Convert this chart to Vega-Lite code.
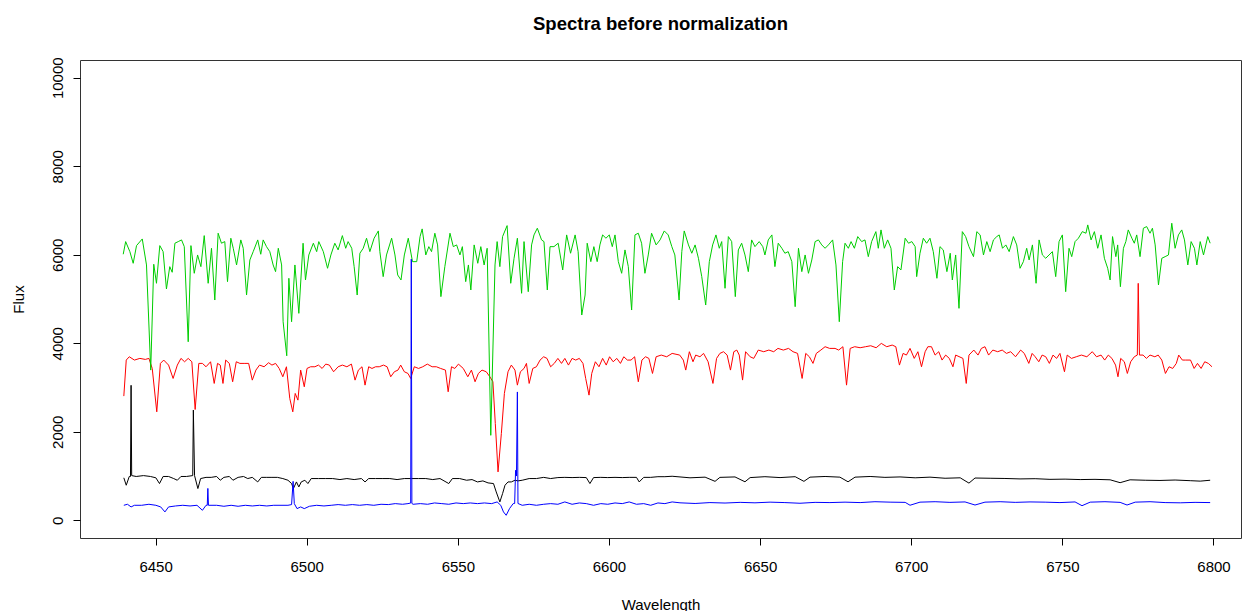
{
  "$schema": "https://vega.github.io/schema/vega-lite/v6.json",
  "width": 1161,
  "height": 478,
  "autosize": {"type": "none"},
  "padding": {"left": 80, "top": 60, "right": 3, "bottom": 73},
  "background": "white",
  "title": {"text": "Spectra before normalization", "font": "Liberation Sans", "fontSize": 18.5, "fontWeight": "bold", "color": "#000", "anchor": "middle", "offset": 23},
  "config": {
    "view": {"stroke": "#333", "strokeWidth": 1},
    "axis": {"labelFont": "Liberation Sans", "titleFont": "Liberation Sans", "labelFontSize": 15, "titleFontSize": 15, "titleFontWeight": "normal", "labelColor": "#000", "titleColor": "#000", "tickColor": "#000", "tickSize": 7, "grid": false, "domain": false}
  },
  "datasets": {
    "black": [
      {"wavelength":6439.5,"flux":960},{"wavelength":6440.3,"flux":792},{"wavelength":6441.3,"flux":990},{"wavelength":6441.7,"flux":990},{"wavelength":6441.9,"flux":3050},{"wavelength":6442.1,"flux":1010},{"wavelength":6443.6,"flux":990},{"wavelength":6446.0,"flux":1010},{"wavelength":6448.3,"flux":990},{"wavelength":6450.1,"flux":960},{"wavelength":6451.3,"flux":830},{"wavelength":6452.5,"flux":990},{"wavelength":6454.3,"flux":990},{"wavelength":6456.0,"flux":943},{"wavelength":6457.2,"flux":905},{"wavelength":6458.4,"flux":990},{"wavelength":6460.2,"flux":990},{"wavelength":6462.3,"flux":1010},{"wavelength":6462.5,"flux":2490},{"wavelength":6462.9,"flux":1010},{"wavelength":6464.0,"flux":717},{"wavelength":6464.9,"flux":943},{"wavelength":6466.7,"flux":970},{"wavelength":6468.4,"flux":970},{"wavelength":6470.2,"flux":990},{"wavelength":6471.4,"flux":905},{"wavelength":6472.6,"flux":970},{"wavelength":6474.4,"flux":990},{"wavelength":6475.6,"flux":905},{"wavelength":6477.3,"flux":970},{"wavelength":6479.1,"flux":990},{"wavelength":6480.5,"flux":943},{"wavelength":6482.0,"flux":970},{"wavelength":6483.8,"flux":867},{"wavelength":6485.0,"flux":970},{"wavelength":6486.8,"flux":970},{"wavelength":6488.5,"flux":970},{"wavelength":6490.3,"flux":970},{"wavelength":6492.1,"flux":943},{"wavelength":6493.8,"flux":905},{"wavelength":6495.0,"flux":830},{"wavelength":6495.6,"flux":717},{"wavelength":6496.6,"flux":867},{"wavelength":6497.4,"flux":754},{"wavelength":6498.2,"flux":867},{"wavelength":6499.4,"flux":905},{"wavelength":6500.4,"flux":830},{"wavelength":6501.5,"flux":943},{"wavelength":6503.9,"flux":943},{"wavelength":6506.3,"flux":943},{"wavelength":6508.6,"flux":943},{"wavelength":6511.0,"flux":920},{"wavelength":6513.3,"flux":943},{"wavelength":6515.7,"flux":920},{"wavelength":6518.1,"flux":943},{"wavelength":6519.3,"flux":867},{"wavelength":6520.5,"flux":943},{"wavelength":6522.8,"flux":943},{"wavelength":6525.2,"flux":943},{"wavelength":6527.5,"flux":943},{"wavelength":6529.9,"flux":920},{"wavelength":6532.3,"flux":943},{"wavelength":6534.6,"flux":943},{"wavelength":6537.0,"flux":943},{"wavelength":6539.4,"flux":943},{"wavelength":6541.7,"flux":920},{"wavelength":6544.1,"flux":943},{"wavelength":6547.0,"flux":830},{"wavelength":6548.2,"flux":943},{"wavelength":6550.6,"flux":943},{"wavelength":6552.9,"flux":905},{"wavelength":6554.7,"flux":920},{"wavelength":6556.5,"flux":867},{"wavelength":6558.3,"flux":890},{"wavelength":6560.0,"flux":845},{"wavelength":6561.8,"flux":830},{"wavelength":6562.7,"flux":641},{"wavelength":6563.9,"flux":415},{"wavelength":6564.8,"flux":603},{"wavelength":6565.6,"flux":792},{"wavelength":6566.6,"flux":867},{"wavelength":6567.7,"flux":867},{"wavelength":6568.9,"flux":905},{"wavelength":6569.9,"flux":890},{"wavelength":6571.3,"flux":905},{"wavelength":6573.6,"flux":943},{"wavelength":6576.0,"flux":943},{"wavelength":6578.4,"flux":970},{"wavelength":6580.7,"flux":943},{"wavelength":6583.1,"flux":965},{"wavelength":6585.4,"flux":970},{"wavelength":6587.8,"flux":965},{"wavelength":6590.2,"flux":970},{"wavelength":6592.5,"flux":965},{"wavelength":6593.7,"flux":830},{"wavelength":6594.9,"flux":965},{"wavelength":6597.3,"flux":970},{"wavelength":6599.6,"flux":965},{"wavelength":6602.0,"flux":970},{"wavelength":6604.4,"flux":965},{"wavelength":6606.7,"flux":970},{"wavelength":6609.1,"flux":970},{"wavelength":6610.0,"flux":867},{"wavelength":6611.5,"flux":970},{"wavelength":6613.8,"flux":970},{"wavelength":6616.2,"flux":985},{"wavelength":6618.5,"flux":985},{"wavelength":6620.9,"flux":995},{"wavelength":6626.8,"flux":960},{"wavelength":6631.8,"flux":975},{"wavelength":6635.1,"flux":880},{"wavelength":6636.7,"flux":970},{"wavelength":6641.7,"flux":980},{"wavelength":6645.0,"flux":870},{"wavelength":6646.7,"flux":965},{"wavelength":6651.6,"flux":985},{"wavelength":6656.6,"flux":965},{"wavelength":6661.6,"flux":985},{"wavelength":6664.5,"flux":880},{"wavelength":6666.5,"flux":975},{"wavelength":6671.5,"flux":990},{"wavelength":6676.4,"flux":975},{"wavelength":6679.1,"flux":870},{"wavelength":6681.4,"flux":975},{"wavelength":6686.4,"flux":990},{"wavelength":6691.3,"flux":970},{"wavelength":6696.3,"flux":980},{"wavelength":6701.3,"flux":960},{"wavelength":6706.2,"flux":975},{"wavelength":6711.2,"flux":950},{"wavelength":6716.2,"flux":960},{"wavelength":6719.1,"flux":840},{"wavelength":6721.1,"flux":955},{"wavelength":6726.1,"flux":950},{"wavelength":6731.0,"flux":945},{"wavelength":6736.0,"flux":935},{"wavelength":6741.0,"flux":940},{"wavelength":6745.9,"flux":925},{"wavelength":6750.9,"flux":930},{"wavelength":6755.9,"flux":920},{"wavelength":6760.8,"flux":925},{"wavelength":6765.8,"flux":915},{"wavelength":6769.1,"flux":850},{"wavelength":6772.4,"flux":915},{"wavelength":6777.4,"flux":905},{"wavelength":6782.3,"flux":900},{"wavelength":6787.3,"flux":910},{"wavelength":6792.3,"flux":895},{"wavelength":6795.6,"flux":885},{"wavelength":6798.9,"flux":905}
    ],
    "red": [
      {"wavelength":6439.5,"flux":2806},{"wavelength":6440.3,"flux":3620},{"wavelength":6441.3,"flux":3695},{"wavelength":6443.0,"flux":3620},{"wavelength":6444.8,"flux":3658},{"wavelength":6446.6,"flux":3635},{"wavelength":6447.8,"flux":3658},{"wavelength":6448.9,"flux":3431},{"wavelength":6450.4,"flux":2451},{"wavelength":6451.6,"flux":3545},{"wavelength":6452.7,"flux":3620},{"wavelength":6454.3,"flux":3507},{"wavelength":6455.8,"flux":3205},{"wavelength":6457.2,"flux":3507},{"wavelength":6458.4,"flux":3658},{"wavelength":6459.6,"flux":3582},{"wavelength":6460.8,"flux":3658},{"wavelength":6462.0,"flux":3582},{"wavelength":6463.1,"flux":2504},{"wavelength":6464.3,"flux":3545},{"wavelength":6465.5,"flux":3545},{"wavelength":6466.7,"flux":3469},{"wavelength":6468.2,"flux":3582},{"wavelength":6469.4,"flux":3092},{"wavelength":6470.5,"flux":3545},{"wavelength":6471.4,"flux":3507},{"wavelength":6472.3,"flux":3092},{"wavelength":6473.2,"flux":3620},{"wavelength":6474.4,"flux":3545},{"wavelength":6475.5,"flux":3130},{"wavelength":6476.7,"flux":3582},{"wavelength":6477.9,"flux":3545},{"wavelength":6479.3,"flux":3545},{"wavelength":6480.8,"flux":3545},{"wavelength":6482.0,"flux":3167},{"wavelength":6483.2,"flux":3394},{"wavelength":6484.4,"flux":3507},{"wavelength":6485.9,"flux":3469},{"wavelength":6487.4,"flux":3560},{"wavelength":6488.5,"flux":3507},{"wavelength":6489.7,"flux":3545},{"wavelength":6490.9,"flux":3431},{"wavelength":6492.1,"flux":3243},{"wavelength":6493.3,"flux":3469},{"wavelength":6494.4,"flux":2753},{"wavelength":6495.4,"flux":2451},{"wavelength":6496.2,"flux":2866},{"wavelength":6497.1,"flux":2715},{"wavelength":6498.0,"flux":3394},{"wavelength":6499.2,"flux":3017},{"wavelength":6500.1,"flux":3431},{"wavelength":6501.3,"flux":3469},{"wavelength":6502.7,"flux":3469},{"wavelength":6503.9,"flux":3507},{"wavelength":6505.1,"flux":3431},{"wavelength":6506.3,"flux":3529},{"wavelength":6507.5,"flux":3507},{"wavelength":6508.9,"flux":3356},{"wavelength":6510.4,"flux":3469},{"wavelength":6511.8,"flux":3507},{"wavelength":6513.3,"flux":3469},{"wavelength":6514.8,"flux":3529},{"wavelength":6516.0,"flux":3167},{"wavelength":6517.1,"flux":3394},{"wavelength":6518.3,"flux":3469},{"wavelength":6519.3,"flux":3054},{"wavelength":6520.5,"flux":3469},{"wavelength":6521.6,"flux":3431},{"wavelength":6522.8,"flux":3469},{"wavelength":6524.0,"flux":3469},{"wavelength":6525.4,"flux":3507},{"wavelength":6526.6,"flux":3469},{"wavelength":6527.8,"flux":3243},{"wavelength":6529.0,"flux":3356},{"wavelength":6530.2,"flux":3394},{"wavelength":6531.1,"flux":3507},{"wavelength":6532.3,"flux":3356},{"wavelength":6533.5,"flux":3318},{"wavelength":6534.4,"flux":3205},{"wavelength":6535.6,"flux":3469},{"wavelength":6537.0,"flux":3431},{"wavelength":6538.4,"flux":3469},{"wavelength":6539.9,"flux":3529},{"wavelength":6541.5,"flux":3469},{"wavelength":6542.9,"flux":3469},{"wavelength":6544.3,"flux":3431},{"wavelength":6545.9,"flux":3394},{"wavelength":6546.8,"flux":2904},{"wavelength":6547.9,"flux":3469},{"wavelength":6549.0,"flux":3431},{"wavelength":6550.2,"flux":3529},{"wavelength":6551.8,"flux":3431},{"wavelength":6553.3,"flux":3243},{"wavelength":6554.5,"flux":3394},{"wavelength":6555.7,"flux":3130},{"wavelength":6556.8,"flux":3318},{"wavelength":6558.0,"flux":3394},{"wavelength":6559.4,"flux":3356},{"wavelength":6560.6,"flux":3243},{"wavelength":6561.6,"flux":3130},{"wavelength":6562.4,"flux":2187},{"wavelength":6563.3,"flux":1094},{"wavelength":6564.4,"flux":1961},{"wavelength":6565.4,"flux":2866},{"wavelength":6566.6,"flux":3356},{"wavelength":6567.7,"flux":3507},{"wavelength":6568.9,"flux":3394},{"wavelength":6569.7,"flux":3054},{"wavelength":6570.7,"flux":3356},{"wavelength":6571.9,"flux":3431},{"wavelength":6572.7,"flux":3545},{"wavelength":6573.6,"flux":3092},{"wavelength":6574.8,"flux":3431},{"wavelength":6576.0,"flux":3469},{"wavelength":6577.2,"flux":3620},{"wavelength":6578.4,"flux":3695},{"wavelength":6579.5,"flux":3658},{"wavelength":6580.7,"flux":3469},{"wavelength":6581.9,"flux":3545},{"wavelength":6583.1,"flux":3658},{"wavelength":6584.3,"flux":3545},{"wavelength":6585.4,"flux":3658},{"wavelength":6586.6,"flux":3507},{"wavelength":6587.8,"flux":3658},{"wavelength":6589.0,"flux":3620},{"wavelength":6590.2,"flux":3658},{"wavelength":6591.4,"flux":3545},{"wavelength":6592.3,"flux":3205},{"wavelength":6593.4,"flux":2828},{"wavelength":6594.3,"flux":3318},{"wavelength":6595.5,"flux":3582},{"wavelength":6596.7,"flux":3469},{"wavelength":6597.9,"flux":3658},{"wavelength":6599.1,"flux":3507},{"wavelength":6600.2,"flux":3695},{"wavelength":6601.4,"flux":3582},{"wavelength":6602.6,"flux":3658},{"wavelength":6603.8,"flux":3545},{"wavelength":6604.9,"flux":3695},{"wavelength":6606.1,"flux":3620},{"wavelength":6607.3,"flux":3620},{"wavelength":6608.5,"flux":3695},{"wavelength":6609.7,"flux":3130},{"wavelength":6610.9,"flux":3620},{"wavelength":6612.1,"flux":3695},{"wavelength":6613.2,"flux":3658},{"wavelength":6614.4,"flux":3318},{"wavelength":6615.6,"flux":3695},{"wavelength":6617.3,"flux":3733},{"wavelength":6619.1,"flux":3695},{"wavelength":6620.9,"flux":3771},{"wavelength":6623.4,"flux":3733},{"wavelength":6624.6,"flux":3620},{"wavelength":6625.4,"flux":3394},{"wavelength":6626.6,"flux":3809},{"wavelength":6627.8,"flux":3582},{"wavelength":6628.7,"flux":3733},{"wavelength":6630.1,"flux":3695},{"wavelength":6631.3,"flux":3771},{"wavelength":6632.8,"flux":3582},{"wavelength":6634.4,"flux":3092},{"wavelength":6635.6,"flux":3658},{"wavelength":6636.7,"flux":3771},{"wavelength":6637.9,"flux":3809},{"wavelength":6639.1,"flux":3733},{"wavelength":6640.2,"flux":3394},{"wavelength":6641.3,"flux":3809},{"wavelength":6642.3,"flux":3846},{"wavelength":6643.1,"flux":3733},{"wavelength":6644.2,"flux":3168},{"wavelength":6645.2,"flux":3809},{"wavelength":6646.7,"flux":3695},{"wavelength":6647.9,"flux":3658},{"wavelength":6649.4,"flux":3846},{"wavelength":6651.2,"flux":3809},{"wavelength":6652.9,"flux":3846},{"wavelength":6654.5,"flux":3809},{"wavelength":6655.9,"flux":3884},{"wavelength":6657.7,"flux":3846},{"wavelength":6659.4,"flux":3884},{"wavelength":6660.9,"flux":3809},{"wavelength":6662.4,"flux":3771},{"wavelength":6663.9,"flux":3205},{"wavelength":6665.1,"flux":3771},{"wavelength":6666.3,"flux":3695},{"wavelength":6667.5,"flux":3545},{"wavelength":6668.6,"flux":3771},{"wavelength":6670.1,"flux":3846},{"wavelength":6671.5,"flux":3922},{"wavelength":6673.0,"flux":3884},{"wavelength":6674.8,"flux":3884},{"wavelength":6676.0,"flux":3846},{"wavelength":6677.4,"flux":3922},{"wavelength":6678.6,"flux":3054},{"wavelength":6679.8,"flux":3884},{"wavelength":6681.3,"flux":3922},{"wavelength":6683.1,"flux":3899},{"wavelength":6684.9,"flux":3922},{"wavelength":6686.6,"flux":3944},{"wavelength":6688.4,"flux":3899},{"wavelength":6690.1,"flux":3997},{"wavelength":6691.9,"flux":3922},{"wavelength":6693.7,"flux":3959},{"wavelength":6694.9,"flux":3922},{"wavelength":6696.1,"flux":3507},{"wavelength":6697.3,"flux":3771},{"wavelength":6698.4,"flux":3733},{"wavelength":6699.6,"flux":3884},{"wavelength":6701.0,"flux":3658},{"wavelength":6702.2,"flux":3809},{"wavelength":6703.4,"flux":3469},{"wavelength":6704.6,"flux":3809},{"wavelength":6705.5,"flux":3922},{"wavelength":6706.7,"flux":3922},{"wavelength":6707.9,"flux":3733},{"wavelength":6709.1,"flux":3809},{"wavelength":6710.2,"flux":3620},{"wavelength":6711.4,"flux":3733},{"wavelength":6712.6,"flux":3658},{"wavelength":6713.8,"flux":3469},{"wavelength":6714.7,"flux":3733},{"wavelength":6717.1,"flux":3658},{"wavelength":6718.2,"flux":3092},{"wavelength":6719.1,"flux":3733},{"wavelength":6720.7,"flux":3846},{"wavelength":6722.1,"flux":3733},{"wavelength":6723.2,"flux":3884},{"wavelength":6724.4,"flux":3922},{"wavelength":6725.6,"flux":3733},{"wavelength":6727.0,"flux":3846},{"wavelength":6728.6,"flux":3809},{"wavelength":6730.1,"flux":3846},{"wavelength":6731.5,"flux":3771},{"wavelength":6732.9,"flux":3809},{"wavelength":6734.5,"flux":3695},{"wavelength":6736.2,"flux":3846},{"wavelength":6737.4,"flux":3771},{"wavelength":6738.9,"flux":3545},{"wavelength":6740.0,"flux":3771},{"wavelength":6741.0,"flux":3695},{"wavelength":6742.2,"flux":3582},{"wavelength":6743.3,"flux":3733},{"wavelength":6744.5,"flux":3695},{"wavelength":6745.7,"flux":3545},{"wavelength":6746.9,"flux":3733},{"wavelength":6748.1,"flux":3658},{"wavelength":6749.2,"flux":3771},{"wavelength":6750.7,"flux":3356},{"wavelength":6751.6,"flux":3733},{"wavelength":6753.0,"flux":3658},{"wavelength":6754.6,"flux":3695},{"wavelength":6756.3,"flux":3733},{"wavelength":6758.1,"flux":3695},{"wavelength":6759.9,"flux":3809},{"wavelength":6761.3,"flux":3695},{"wavelength":6762.8,"flux":3733},{"wavelength":6764.0,"flux":3620},{"wavelength":6765.2,"flux":3733},{"wavelength":6766.4,"flux":3658},{"wavelength":6767.6,"flux":3507},{"wavelength":6768.4,"flux":3243},{"wavelength":6769.3,"flux":3658},{"wavelength":6770.5,"flux":3582},{"wavelength":6771.5,"flux":3318},{"wavelength":6772.6,"flux":3582},{"wavelength":6773.8,"flux":3695},{"wavelength":6774.8,"flux":3733},{"wavelength":6775.1,"flux":5354},{"wavelength":6775.5,"flux":3733},{"wavelength":6776.7,"flux":3733},{"wavelength":6777.8,"flux":3658},{"wavelength":6779.0,"flux":3733},{"wavelength":6780.6,"flux":3695},{"wavelength":6781.7,"flux":3733},{"wavelength":6782.9,"flux":3620},{"wavelength":6784.1,"flux":3318},{"wavelength":6785.3,"flux":3469},{"wavelength":6786.5,"flux":3431},{"wavelength":6787.7,"flux":3545},{"wavelength":6788.5,"flux":3733},{"wavelength":6789.7,"flux":3620},{"wavelength":6790.8,"flux":3620},{"wavelength":6792.4,"flux":3620},{"wavelength":6793.6,"flux":3431},{"wavelength":6794.7,"flux":3545},{"wavelength":6795.9,"flux":3431},{"wavelength":6797.1,"flux":3582},{"wavelength":6798.3,"flux":3545},{"wavelength":6799.5,"flux":3469}
    ],
    "green": [
      {"wavelength":6439.3,"flux":6011},{"wavelength":6440.1,"flux":6297},{"wavelength":6441.5,"flux":6070},{"wavelength":6442.6,"flux":5807},{"wavelength":6443.7,"flux":6206},{"wavelength":6445.6,"flux":6357},{"wavelength":6447.0,"flux":5769},{"wavelength":6448.4,"flux":3394},{"wavelength":6449.4,"flux":5785},{"wavelength":6450.3,"flux":5355},{"wavelength":6451.4,"flux":6206},{"wavelength":6452.5,"flux":6070},{"wavelength":6453.6,"flux":5226},{"wavelength":6454.7,"flux":5731},{"wavelength":6455.5,"flux":5604},{"wavelength":6456.4,"flux":6260},{"wavelength":6457.5,"flux":6297},{"wavelength":6458.6,"flux":6335},{"wavelength":6459.5,"flux":6183},{"wavelength":6460.8,"flux":4034},{"wavelength":6461.7,"flux":6206},{"wavelength":6462.8,"flux":5581},{"wavelength":6463.9,"flux":5995},{"wavelength":6465.0,"flux":5731},{"wavelength":6466.1,"flux":6432},{"wavelength":6467.4,"flux":5355},{"wavelength":6468.5,"flux":6146},{"wavelength":6469.6,"flux":4977},{"wavelength":6470.7,"flux":6486},{"wavelength":6471.8,"flux":6260},{"wavelength":6472.9,"flux":6297},{"wavelength":6473.8,"flux":5392},{"wavelength":6474.9,"flux":6373},{"wavelength":6475.7,"flux":6146},{"wavelength":6476.8,"flux":5769},{"wavelength":6478.2,"flux":6335},{"wavelength":6479.0,"flux":6146},{"wavelength":6480.1,"flux":5090},{"wavelength":6481.2,"flux":5882},{"wavelength":6482.3,"flux":6070},{"wavelength":6483.8,"flux":6335},{"wavelength":6484.8,"flux":6011},{"wavelength":6485.6,"flux":6335},{"wavelength":6486.7,"flux":6183},{"wavelength":6487.8,"flux":6070},{"wavelength":6488.9,"flux":5769},{"wavelength":6489.7,"flux":5618},{"wavelength":6490.6,"flux":6146},{"wavelength":6491.7,"flux":5769},{"wavelength":6492.2,"flux":4487},{"wavelength":6493.4,"flux":3717},{"wavelength":6494.1,"flux":5468},{"wavelength":6495.0,"flux":4487},{"wavelength":6496.1,"flux":5769},{"wavelength":6497.4,"flux":4676},{"wavelength":6498.8,"flux":6260},{"wavelength":6499.6,"flux":5430},{"wavelength":6500.7,"flux":5995},{"wavelength":6502.2,"flux":6260},{"wavelength":6503.3,"flux":6070},{"wavelength":6504.0,"flux":6297},{"wavelength":6505.5,"flux":6070},{"wavelength":6506.9,"flux":5694},{"wavelength":6508.0,"flux":5995},{"wavelength":6509.3,"flux":6260},{"wavelength":6510.4,"flux":6109},{"wavelength":6511.8,"flux":6432},{"wavelength":6512.9,"flux":6146},{"wavelength":6513.7,"flux":6297},{"wavelength":6514.9,"flux":6146},{"wavelength":6515.7,"flux":5731},{"wavelength":6516.7,"flux":5090},{"wavelength":6517.6,"flux":6034},{"wavelength":6518.7,"flux":6146},{"wavelength":6519.8,"flux":6373},{"wavelength":6520.9,"flux":6070},{"wavelength":6522.3,"flux":6373},{"wavelength":6523.7,"flux":6538},{"wavelength":6524.2,"flux":6070},{"wavelength":6525.3,"flux":5505},{"wavelength":6526.4,"flux":5995},{"wavelength":6528.1,"flux":6373},{"wavelength":6529.2,"flux":5995},{"wavelength":6530.1,"flux":5543},{"wavelength":6531.2,"flux":5430},{"wavelength":6532.3,"flux":5995},{"wavelength":6533.6,"flux":6373},{"wavelength":6535.0,"flux":5844},{"wavelength":6536.4,"flux":5844},{"wavelength":6537.5,"flux":6410},{"wavelength":6538.2,"flux":6584},{"wavelength":6539.4,"flux":5995},{"wavelength":6540.4,"flux":6183},{"wavelength":6541.3,"flux":6070},{"wavelength":6542.4,"flux":6486},{"wavelength":6543.3,"flux":6222},{"wavelength":6544.4,"flux":5053},{"wavelength":6545.7,"flux":5731},{"wavelength":6547.4,"flux":6486},{"wavelength":6548.5,"flux":6183},{"wavelength":6549.6,"flux":6222},{"wavelength":6550.7,"flux":5995},{"wavelength":6551.5,"flux":6183},{"wavelength":6552.6,"flux":5392},{"wavelength":6553.5,"flux":5769},{"wavelength":6554.3,"flux":5204},{"wavelength":6555.4,"flux":6222},{"wavelength":6556.6,"flux":5807},{"wavelength":6557.6,"flux":6183},{"wavelength":6558.7,"flux":5769},{"wavelength":6559.7,"flux":6146},{"wavelength":6560.9,"flux":1920},{"wavelength":6562.3,"flux":5769},{"wavelength":6563.0,"flux":6297},{"wavelength":6563.9,"flux":5731},{"wavelength":6564.8,"flux":6410},{"wavelength":6566.3,"flux":6658},{"wavelength":6567.5,"flux":5355},{"wavelength":6568.6,"flux":5920},{"wavelength":6569.7,"flux":6373},{"wavelength":6571.1,"flux":5129},{"wavelength":6571.9,"flux":6297},{"wavelength":6573.3,"flux":5165},{"wavelength":6574.4,"flux":6222},{"wavelength":6575.2,"flux":6448},{"wavelength":6576.3,"flux":6599},{"wavelength":6577.7,"flux":6335},{"wavelength":6578.5,"flux":6297},{"wavelength":6579.6,"flux":5204},{"wavelength":6580.5,"flux":6183},{"wavelength":6581.8,"flux":6183},{"wavelength":6583.2,"flux":6260},{"wavelength":6584.7,"flux":5656},{"wavelength":6586.0,"flux":6448},{"wavelength":6587.3,"flux":6034},{"wavelength":6588.8,"flux":6448},{"wavelength":6589.8,"flux":6070},{"wavelength":6591.0,"flux":4638},{"wavelength":6592.1,"flux":5090},{"wavelength":6592.8,"flux":6260},{"wavelength":6594.0,"flux":5844},{"wavelength":6595.0,"flux":6183},{"wavelength":6596.1,"flux":5844},{"wavelength":6597.0,"flux":6222},{"wavelength":6597.9,"flux":6448},{"wavelength":6599.0,"flux":6373},{"wavelength":6600.1,"flux":6448},{"wavelength":6601.1,"flux":6183},{"wavelength":6602.0,"flux":6448},{"wavelength":6603.1,"flux":5844},{"wavelength":6604.2,"flux":5581},{"wavelength":6605.3,"flux":6109},{"wavelength":6606.4,"flux":5731},{"wavelength":6607.5,"flux":4751},{"wavelength":6608.6,"flux":6448},{"wavelength":6609.7,"flux":6486},{"wavelength":6610.8,"flux":6260},{"wavelength":6611.9,"flux":5581},{"wavelength":6613.0,"flux":5995},{"wavelength":6614.1,"flux":6486},{"wavelength":6615.6,"flux":6222},{"wavelength":6616.9,"flux":6335},{"wavelength":6618.3,"flux":6538},{"wavelength":6619.6,"flux":6448},{"wavelength":6620.8,"flux":6183},{"wavelength":6621.8,"flux":5995},{"wavelength":6623.2,"flux":4977},{"wavelength":6624.1,"flux":6070},{"wavelength":6624.9,"flux":6538},{"wavelength":6626.3,"flux":6222},{"wavelength":6627.4,"flux":6034},{"wavelength":6628.5,"flux":6222},{"wavelength":6629.6,"flux":5920},{"wavelength":6630.7,"flux":5505},{"wavelength":6632.0,"flux":4864},{"wavelength":6633.2,"flux":5844},{"wavelength":6634.3,"flux":6222},{"wavelength":6635.4,"flux":6448},{"wavelength":6636.5,"flux":6146},{"wavelength":6637.3,"flux":6297},{"wavelength":6638.4,"flux":5242},{"wavelength":6639.5,"flux":6410},{"wavelength":6640.6,"flux":6297},{"wavelength":6641.8,"flux":5053},{"wavelength":6642.8,"flux":6109},{"wavelength":6643.9,"flux":6260},{"wavelength":6645.0,"flux":5995},{"wavelength":6646.1,"flux":5618},{"wavelength":6647.2,"flux":6335},{"wavelength":6648.3,"flux":6183},{"wavelength":6649.7,"flux":6297},{"wavelength":6650.9,"flux":6183},{"wavelength":6651.6,"flux":5995},{"wavelength":6652.7,"flux":6335},{"wavelength":6653.9,"flux":6448},{"wavelength":6654.9,"flux":5731},{"wavelength":6656.0,"flux":6260},{"wavelength":6657.2,"flux":6146},{"wavelength":6658.2,"flux":6034},{"wavelength":6659.3,"flux":6070},{"wavelength":6660.5,"flux":5844},{"wavelength":6661.6,"flux":4826},{"wavelength":6662.7,"flux":6146},{"wavelength":6663.8,"flux":5618},{"wavelength":6664.9,"flux":5995},{"wavelength":6666.0,"flux":5581},{"wavelength":6667.1,"flux":5882},{"wavelength":6668.2,"flux":6297},{"wavelength":6669.3,"flux":6335},{"wavelength":6670.4,"flux":6222},{"wavelength":6671.5,"flux":6146},{"wavelength":6672.6,"flux":6222},{"wavelength":6674.0,"flux":6335},{"wavelength":6675.1,"flux":5769},{"wavelength":6676.2,"flux":4487},{"wavelength":6677.3,"flux":5844},{"wavelength":6678.1,"flux":6260},{"wavelength":6679.2,"flux":6146},{"wavelength":6680.1,"flux":6297},{"wavelength":6681.2,"flux":6146},{"wavelength":6682.3,"flux":6410},{"wavelength":6683.6,"flux":6297},{"wavelength":6684.7,"flux":6335},{"wavelength":6685.8,"flux":5957},{"wavelength":6686.9,"flux":6297},{"wavelength":6688.3,"flux":6522},{"wavelength":6689.1,"flux":6146},{"wavelength":6690.0,"flux":6561},{"wavelength":6691.1,"flux":6146},{"wavelength":6692.2,"flux":6335},{"wavelength":6693.3,"flux":6146},{"wavelength":6694.4,"flux":5204},{"wavelength":6695.5,"flux":5731},{"wavelength":6696.6,"flux":5656},{"wavelength":6698.0,"flux":6373},{"wavelength":6699.1,"flux":6260},{"wavelength":6700.2,"flux":6297},{"wavelength":6701.3,"flux":6183},{"wavelength":6701.8,"flux":5505},{"wavelength":6702.9,"flux":6034},{"wavelength":6704.0,"flux":6373},{"wavelength":6705.1,"flux":6260},{"wavelength":6706.2,"flux":6373},{"wavelength":6707.3,"flux":6070},{"wavelength":6708.5,"flux":5468},{"wavelength":6709.5,"flux":6183},{"wavelength":6710.6,"flux":6109},{"wavelength":6711.8,"flux":5618},{"wavelength":6712.9,"flux":6034},{"wavelength":6713.6,"flux":5430},{"wavelength":6714.7,"flux":5995},{"wavelength":6715.8,"flux":4789},{"wavelength":6716.9,"flux":6522},{"wavelength":6718.0,"flux":6410},{"wavelength":6719.1,"flux":6183},{"wavelength":6720.6,"flux":5957},{"wavelength":6721.7,"flux":6522},{"wavelength":6722.8,"flux":6448},{"wavelength":6723.9,"flux":5995},{"wavelength":6725.0,"flux":6297},{"wavelength":6726.1,"flux":6070},{"wavelength":6727.2,"flux":6335},{"wavelength":6728.3,"flux":6410},{"wavelength":6729.1,"flux":6448},{"wavelength":6730.2,"flux":6146},{"wavelength":6731.3,"flux":6222},{"wavelength":6732.4,"flux":6070},{"wavelength":6733.8,"flux":6410},{"wavelength":6734.9,"flux":6222},{"wavelength":6736.0,"flux":5694},{"wavelength":6737.1,"flux":5844},{"wavelength":6738.2,"flux":6146},{"wavelength":6739.0,"flux":5882},{"wavelength":6740.1,"flux":6222},{"wavelength":6741.3,"flux":5355},{"wavelength":6742.3,"flux":6335},{"wavelength":6743.4,"flux":5995},{"wavelength":6744.5,"flux":5920},{"wavelength":6745.6,"flux":5995},{"wavelength":6746.7,"flux":6070},{"wavelength":6747.8,"flux":5505},{"wavelength":6748.9,"flux":6297},{"wavelength":6750.0,"flux":6448},{"wavelength":6751.1,"flux":5165},{"wavelength":6752.2,"flux":6146},{"wavelength":6753.1,"flux":5957},{"wavelength":6754.2,"flux":6297},{"wavelength":6755.3,"flux":6373},{"wavelength":6756.6,"flux":6522},{"wavelength":6757.8,"flux":6486},{"wavelength":6758.4,"flux":6674},{"wavelength":6759.5,"flux":6335},{"wavelength":6760.6,"flux":6522},{"wavelength":6761.7,"flux":6146},{"wavelength":6762.8,"flux":6448},{"wavelength":6763.9,"flux":5920},{"wavelength":6765.0,"flux":5694},{"wavelength":6765.8,"flux":5430},{"wavelength":6766.6,"flux":6410},{"wavelength":6767.7,"flux":5957},{"wavelength":6768.3,"flux":6222},{"wavelength":6769.2,"flux":5278},{"wavelength":6770.2,"flux":6146},{"wavelength":6771.0,"flux":6297},{"wavelength":6771.8,"flux":6561},{"wavelength":6773.0,"flux":6373},{"wavelength":6773.8,"flux":6260},{"wavelength":6774.6,"flux":6448},{"wavelength":6775.7,"flux":5957},{"wavelength":6776.8,"flux":6599},{"wavelength":6777.9,"flux":6636},{"wavelength":6779.0,"flux":6486},{"wavelength":6779.8,"flux":6599},{"wavelength":6780.7,"flux":6222},{"wavelength":6781.8,"flux":5317},{"wavelength":6782.9,"flux":5920},{"wavelength":6784.0,"flux":5957},{"wavelength":6785.1,"flux":5995},{"wavelength":6786.2,"flux":6712},{"wavelength":6787.3,"flux":6146},{"wavelength":6788.4,"flux":6448},{"wavelength":6789.5,"flux":6561},{"wavelength":6790.4,"flux":6335},{"wavelength":6791.5,"flux":5769},{"wavelength":6792.6,"flux":6297},{"wavelength":6793.7,"flux":6146},{"wavelength":6794.5,"flux":5769},{"wavelength":6795.6,"flux":6297},{"wavelength":6796.7,"flux":5995},{"wavelength":6798.1,"flux":6410},{"wavelength":6798.9,"flux":6260}
    ],
    "blue": [
      {"wavelength":6439.5,"flux":339},{"wavelength":6440.7,"flux":362},{"wavelength":6441.9,"flux":302},{"wavelength":6443.0,"flux":339},{"wavelength":6445.4,"flux":339},{"wavelength":6447.8,"flux":362},{"wavelength":6450.1,"flux":339},{"wavelength":6451.7,"flux":302},{"wavelength":6453.1,"flux":189},{"wavelength":6454.3,"flux":302},{"wavelength":6456.6,"flux":324},{"wavelength":6459.0,"flux":339},{"wavelength":6461.4,"flux":324},{"wavelength":6463.7,"flux":339},{"wavelength":6465.5,"flux":226},{"wavelength":6466.7,"flux":339},{"wavelength":6467.1,"flux":339},{"wavelength":6467.3,"flux":720},{"wavelength":6467.5,"flux":339},{"wavelength":6470.2,"flux":339},{"wavelength":6472.6,"flux":317},{"wavelength":6475.0,"flux":339},{"wavelength":6477.3,"flux":317},{"wavelength":6479.7,"flux":339},{"wavelength":6482.0,"flux":324},{"wavelength":6484.4,"flux":339},{"wavelength":6486.8,"flux":324},{"wavelength":6489.1,"flux":339},{"wavelength":6491.5,"flux":339},{"wavelength":6493.8,"flux":339},{"wavelength":6495.0,"flux":355},{"wavelength":6495.5,"flux":880},{"wavelength":6495.9,"flux":377},{"wavelength":6496.8,"flux":264},{"wavelength":6498.0,"flux":302},{"wavelength":6499.2,"flux":264},{"wavelength":6500.9,"flux":317},{"wavelength":6503.3,"flux":339},{"wavelength":6505.7,"flux":324},{"wavelength":6508.1,"flux":339},{"wavelength":6510.4,"flux":355},{"wavelength":6512.8,"flux":339},{"wavelength":6515.1,"flux":355},{"wavelength":6517.5,"flux":339},{"wavelength":6519.9,"flux":355},{"wavelength":6522.2,"flux":339},{"wavelength":6524.6,"flux":362},{"wavelength":6527.0,"flux":355},{"wavelength":6529.3,"flux":377},{"wavelength":6531.7,"flux":362},{"wavelength":6533.5,"flux":377},{"wavelength":6534.4,"flux":390},{"wavelength":6534.6,"flux":5900},{"wavelength":6534.8,"flux":380},{"wavelength":6535.2,"flux":362},{"wavelength":6537.6,"flux":377},{"wavelength":6540.0,"flux":362},{"wavelength":6542.3,"flux":392},{"wavelength":6544.7,"flux":377},{"wavelength":6547.0,"flux":362},{"wavelength":6549.4,"flux":392},{"wavelength":6551.8,"flux":377},{"wavelength":6554.1,"flux":392},{"wavelength":6556.5,"flux":377},{"wavelength":6558.8,"flux":392},{"wavelength":6561.2,"flux":377},{"wavelength":6563.0,"flux":415},{"wavelength":6564.2,"flux":339},{"wavelength":6565.1,"flux":189},{"wavelength":6566.0,"flux":113},{"wavelength":6567.1,"flux":264},{"wavelength":6568.3,"flux":377},{"wavelength":6568.8,"flux":380},{"wavelength":6569.1,"flux":1130},{"wavelength":6569.4,"flux":1000},{"wavelength":6569.7,"flux":2900},{"wavelength":6569.9,"flux":380},{"wavelength":6571.3,"flux":339},{"wavelength":6573.6,"flux":362},{"wavelength":6576.0,"flux":339},{"wavelength":6578.4,"flux":362},{"wavelength":6580.7,"flux":377},{"wavelength":6583.1,"flux":362},{"wavelength":6585.4,"flux":415},{"wavelength":6587.8,"flux":362},{"wavelength":6590.2,"flux":392},{"wavelength":6592.5,"flux":377},{"wavelength":6594.9,"flux":339},{"wavelength":6597.3,"flux":377},{"wavelength":6599.6,"flux":362},{"wavelength":6602.0,"flux":392},{"wavelength":6604.4,"flux":377},{"wavelength":6606.7,"flux":415},{"wavelength":6609.1,"flux":362},{"wavelength":6611.5,"flux":377},{"wavelength":6613.8,"flux":339},{"wavelength":6616.2,"flux":392},{"wavelength":6618.5,"flux":377},{"wavelength":6620.9,"flux":415},{"wavelength":6623.5,"flux":395},{"wavelength":6628.5,"flux":380},{"wavelength":6633.4,"flux":400},{"wavelength":6638.4,"flux":390},{"wavelength":6643.4,"flux":405},{"wavelength":6648.3,"flux":395},{"wavelength":6653.3,"flux":410},{"wavelength":6658.2,"flux":400},{"wavelength":6663.2,"flux":385},{"wavelength":6668.2,"flux":405},{"wavelength":6673.1,"flux":400},{"wavelength":6678.1,"flux":410},{"wavelength":6683.1,"flux":400},{"wavelength":6688.0,"flux":420},{"wavelength":6693.0,"flux":410},{"wavelength":6698.0,"flux":405},{"wavelength":6699.6,"flux":340},{"wavelength":6702.9,"flux":410},{"wavelength":6707.9,"flux":420},{"wavelength":6712.8,"flux":405},{"wavelength":6717.8,"flux":415},{"wavelength":6721.1,"flux":345},{"wavelength":6724.4,"flux":410},{"wavelength":6729.4,"flux":420},{"wavelength":6734.4,"flux":405},{"wavelength":6739.3,"flux":415},{"wavelength":6744.3,"flux":410},{"wavelength":6749.2,"flux":400},{"wavelength":6754.2,"flux":415},{"wavelength":6756.5,"flux":330},{"wavelength":6759.2,"flux":410},{"wavelength":6764.1,"flux":420},{"wavelength":6769.1,"flux":405},{"wavelength":6771.4,"flux":345},{"wavelength":6774.1,"flux":410},{"wavelength":6779.0,"flux":420},{"wavelength":6784.0,"flux":400},{"wavelength":6789.0,"flux":395},{"wavelength":6793.9,"flux":405},{"wavelength":6798.9,"flux":400}
    ]
  },
  "encoding": {
    "x": {"field": "wavelength", "type": "quantitative", "scale": {"domain": [6425.0, 6809.1], "nice": false, "zero": false},
      "axis": {"title": "Wavelength", "values": [6450, 6500, 6550, 6600, 6650, 6700, 6750, 6800], "format": "d", "labelPadding": 26, "labelBaseline": "alphabetic", "titleY": 66, "titleBaseline": "middle"}},
    "y": {"field": "flux", "type": "quantitative", "scale": {"domain": [-400, 10400], "nice": false, "zero": false},
      "axis": {"title": "Flux", "values": [0, 2000, 4000, 6000, 8000, 10000], "format": "d", "labelAngle": -90, "labelAlign": "center", "labelBaseline": "alphabetic", "labelPadding": 11, "titleX": -62, "titleBaseline": "middle"}}
  },
  "layer": [
    {"data": {"name": "black"}, "mark": {"type": "line", "color": "#000000", "strokeWidth": 1, "clip": true}},
    {"data": {"name": "red"}, "mark": {"type": "line", "color": "#FF0000", "strokeWidth": 1, "clip": true}},
    {"data": {"name": "green"}, "mark": {"type": "line", "color": "#00CD00", "strokeWidth": 1, "clip": true}},
    {"data": {"name": "blue"}, "mark": {"type": "line", "color": "#0000FF", "strokeWidth": 1, "clip": true}}
  ]
}
